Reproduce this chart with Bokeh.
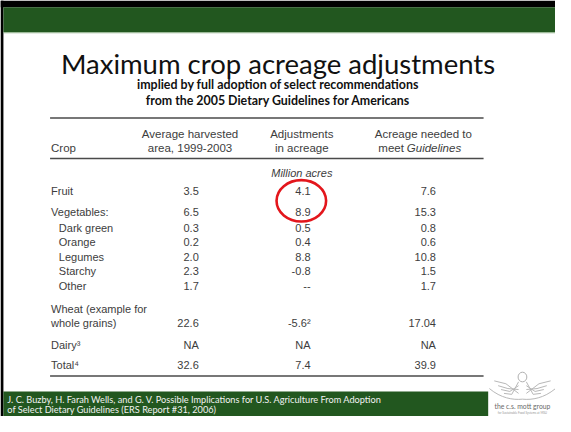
from bokeh.plotting import figure
from bokeh.models import Range1d, ColumnDataSource
from bokeh.core.properties import value
from bokeh.embed import file_html
from bokeh.resources import INLINE

# ---------------- data ----------------
title = "Maximum crop acreage adjustments"
subtitle = ["implied by full adoption of select recommendations",
            "from the 2005 Dietary Guidelines for Americans"]
crop_header = "Crop"
col_headers = [["Average harvested", "area, 1999-2003"],
               ["Adjustments", "in acreage"],
               ["Acreage needed to", "meet"]]
col3_italic = "Guidelines"
unit_label = "Million acres"
crops = ["Fruit", "Vegetables:", "Dark green", "Orange", "Legumes", "Starchy",
         "Other", "Wheat (example for\nwhole grains)", "Dairy³", "Total⁴"]
crop_level = [0, 0, 1, 1, 1, 1, 1, 0, 0, 0]
avg_area = ["3.5", "6.5", "0.3", "0.2", "2.0", "2.3", "1.7", "22.6", "NA", "32.6"]
adjustments = ["4.1", "8.9", "0.5", "0.4", "8.8", "-0.8", "--", "-5.6²", "NA", "7.4"]
needed = ["7.6", "15.3", "0.8", "0.6", "10.8", "1.5", "1.7", "17.04", "NA", "39.9"]
highlight_rows = ["Fruit", "Vegetables:"]
source_note = ["J. C. Buzby, H. Farah Wells, and G. V. Possible Implications for U.S. Agriculture From Adoption",
               "of Select Dietary Guidelines (ERS Report #31, 2006)"]
logo_text = "the c.s. mott group"
logo_sub = "for Sustainable Food Systems at MSU"

# ---------------- layout (slide pixel coordinates) ----------------
W, H = 571, 432
row_y = [198, 220, 236, 251, 266, 281, 296, 335, 358, 379]
line_gap = 15
label_x = [52, 60]
col_right = [204, 319, 448]
col_center = [195, 310, 435]
table_left, table_right = 51, 497
GREEN = "#22571f"
TXT = "#3d3d3d"
TABLE_FONT = "Liberation Sans"
SLIDE_FONT = "Lato"

p = figure(width=555, height=416, x_range=Range1d(0, W), y_range=Range1d(H, 0),
           output_backend="svg", toolbar_location=None, min_border=0,
           x_axis_type=None, y_axis_type=None)
p.grid.visible = False
p.outline_line_color = None
p.background_fill_color = "white"
p.border_fill_color = "white"

# slide frame & bands
p.quad(left=[0, 0, 3, 3], right=[W, 3, W, 502], top=[0, 0, 7, 406], bottom=[7, H, 33, H],
       fill_color=["black", "black", GREEN, GREEN], line_color=None)
p.segment(x0=[3], y0=[33.5], x1=[W], y1=[33.5], line_color="#8fb08a", line_width=1)

# title & subtitle
p.text(x=[W / 2], y=[65], text=[title], text_align="center", text_baseline="alphabetic",
       text_font=value(SLIDE_FONT), text_font_size="27.5px", text_color="#111111")
p.text(x=[W / 2, W / 2], y=[87, 104], text=subtitle, text_align="center", text_baseline="middle",
       text_font=value(SLIDE_FONT), text_font_style="bold", text_font_size="12.4px",
       text_color="#111111")

# table rules
p.segment(x0=[table_left] * 3, x1=[table_right] * 3, y0=[122, 164, 390], y1=[122, 164, 390],
          line_color="#4a4a4a", line_width=1.6)

tf = value(TABLE_FONT)
fh = "11.5px"
fs = "11px"
# headers
p.text(x=[label_x[0]], y=[153], text=[crop_header], text_align="left", text_baseline="middle",
       text_font=tf, text_font_size=fh, text_color=TXT)
hx, hy, ht = [], [], []
for i, lines in enumerate(col_headers):
    for j, t in enumerate(lines):
        if i == 2 and j == 1:
            continue
        hx.append(col_center[i]); hy.append(139 + 14 * j); ht.append(t)
p.text(x=hx, y=hy, text=ht, text_align="center", text_baseline="middle",
       text_font=tf, text_font_size=fh, text_color=TXT)
p.text(x=[col_center[2] - 20], y=[153], text=[col_headers[2][1]], text_align="right",
       text_baseline="middle", text_font=tf, text_font_size=fh, text_color=TXT)
p.text(x=[col_center[2] - 17], y=[153], text=[col3_italic], text_align="left",
       text_baseline="middle", text_font=tf, text_font_size=fh, text_font_style="italic",
       text_color=TXT)
p.text(x=[col_center[1]], y=[179], text=[unit_label], text_align="center", text_baseline="middle",
       text_font=tf, text_font_size=fs, text_font_style="italic", text_color=TXT)

# row labels
lx, ly, lt = [], [], []
for c, lvl, y in zip(crops, crop_level, row_y):
    parts = c.split("\n")
    n = len(parts)
    for k, t in enumerate(parts):
        lx.append(label_x[lvl]); ly.append(y - line_gap * (n - 1 - k)); lt.append(t)
p.text(x=lx, y=ly, text=lt, text_align="left", text_baseline="middle",
       text_font=tf, text_font_size=fs, text_color=TXT)

# values
for ci, col in enumerate([avg_area, adjustments, needed]):
    src = ColumnDataSource(dict(x=[col_right[ci]] * len(col), y=row_y, t=col))
    p.text(x="x", y="y", text="t", source=src, text_align="right", text_baseline="middle",
           text_font=tf, text_font_size=fs, text_color=TXT)

# red highlight circle around the Fruit / Vegetables adjustments
hy_vals = [row_y[crops.index(r)] for r in highlight_rows]
cy = (hy_vals[0] + hy_vals[1]) / 2 - 1
p.ellipse(x=[col_center[1] - 0.5], y=[cy], width=51, height=(hy_vals[1] - hy_vals[0]) + 21,
          fill_color=None, line_color="#e3161c", line_width=2.6)

# footer source
p.text(x=[7, 7], y=[414, 425], text=source_note, text_align="left", text_baseline="middle",
       text_font=value(SLIDE_FONT), text_font_size="9.2px", text_color="#f2f2f2")

# logo (simplified)
p.quad(left=[502], right=[W], top=[383], bottom=[H], fill_color="white", line_color=None)
p.multi_line(xs=[[508, 520, 533], [512, 522, 533], [515, 524, 533], [518, 526, 533],
                 [566, 554, 541], [562, 552, 541], [559, 550, 541], [556, 548, 541]],
             ys=[[395, 398, 408], [400, 403, 404], [404, 406, 400], [408, 409, 396],
                 [395, 398, 408], [400, 403, 404], [404, 406, 400], [408, 409, 396]],
             line_color="#b8b8b8", line_width=1)
p.bezier(x0=[503, 571], y0=[403, 403], x1=[537, 537], y1=[414, 414],
         cx0=[515, 559], cy0=[413, 413], cx1=[527, 547], cy1=[415, 415],
         line_color="#b8b8b8", line_width=1)
p.ellipse(x=[537], y=[391], width=9, height=10, fill_color=None, line_color="#b0b0b0", line_width=1)
p.text(x=[537], y=[421], text=[logo_text], text_align="center", text_baseline="middle",
       text_font=value(SLIDE_FONT), text_font_size="6.8px", text_color="#6a6a6a")
p.text(x=[537], y=[428], text=[logo_sub], text_align="center", text_baseline="middle",
       text_font=value(SLIDE_FONT), text_font_size="3px", text_color="#999999")

open("out.html", "w").write(file_html(p, INLINE))
